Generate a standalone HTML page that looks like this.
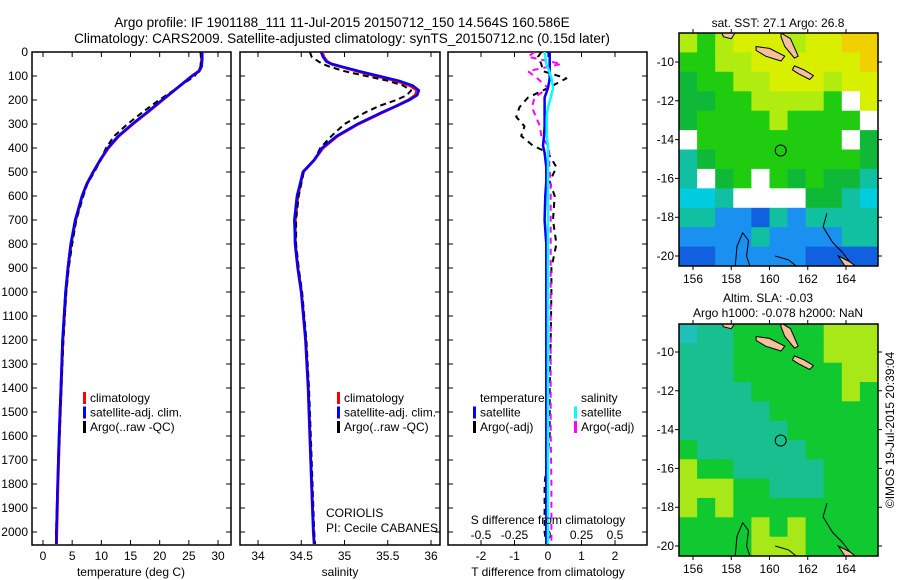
<!DOCTYPE html>
<html><head><meta charset="utf-8"><style>
body{margin:0;background:#fff;}
svg{display:block;font-family:"Liberation Sans",sans-serif;}
text{fill:#000;}
</style></head><body>
<svg id="s" width="900" height="580" viewBox="0 0 900 580">
<text x="342" y="27" font-size="13.5" text-anchor="middle">Argo profile: IF 1901188_111 11-Jul-2015 20150712_150 14.564S 160.586E</text>
<text x="342" y="43" font-size="13.5" text-anchor="middle">Climatology: CARS2009. Satellite-adjusted climatology: synTS_20150712.nc (0.15d later)</text>
<text x="778" y="27" font-size="12" text-anchor="middle">sat. SST: 27.1 Argo: 26.8</text>
<text x="768" y="302" font-size="12" text-anchor="middle">Altim. SLA: -0.03</text>
<text x="778" y="317" font-size="12" text-anchor="middle">Argo h1000: -0.078 h2000: NaN</text>
<text transform="translate(894,430) rotate(-90)" font-size="12" text-anchor="middle">©IMOS 19-Jul-2015 20:39:04</text>
<text x="326" y="517" font-size="12">CORIOLIS</text>
<text x="326" y="532" font-size="12">PI: Cecile CABANES</text>
</svg>
<script>
// ---------- data ----------
const depthLevels = [0,30,60,80,100,150,200,250,300,350,400,450,500,550,600,700,800,900,1000,1200,1400,1600,1800,2000,2050];
const tempClim   = [27.2,27.2,27.1,26.7,25.5,23,20.5,18,15.4,13,11.2,9.8,8.6,7.5,6.7,5.6,4.8,4.3,3.9,3.4,3.1,2.8,2.55,2.35,2.3];
const tempSat    = [27.3,27.3,27.2,26.8,25.6,23,20.4,17.9,15.3,12.9,11.1,9.8,8.6,7.5,6.7,5.5,4.75,4.25,3.85,3.35,3.05,2.75,2.5,2.3,2.3];
const tempArgo   = [27.0,27.1,27.0,26.6,26.0,23,19.9,17.1,14.5,12.2,10.8,9.9,8.8,7.6,6.9,5.7,5.0,4.4,4.0,3.5,3.15,2.85,2.5,2.25,2.3];
const salDepths  = [0,20,40,50,60,80,100,120,140,160,180,200,225,250,300,350,400,450,500,600,700,800,900,1000,1200,1400,1600,1800,2000,2050];
const salClim    = [34.74,34.76,34.8,34.85,34.95,35.15,35.37,35.6,35.76,35.84,35.82,35.74,35.6,35.45,35.16,34.92,34.75,34.65,34.52,34.46,34.43,34.43,34.46,34.5,34.55,34.58,34.6,34.62,34.64,34.65];
const salSat     = [34.73,34.75,34.79,34.85,34.96,35.17,35.4,35.63,35.79,35.86,35.84,35.75,35.6,35.44,35.15,34.91,34.74,34.65,34.52,34.45,34.42,34.43,34.46,34.5,34.55,34.58,34.6,34.62,34.64,34.65];
const salArgo    = [34.6,34.62,34.7,34.75,34.82,35.0,35.25,35.5,35.68,35.77,35.72,35.6,35.4,35.25,35.0,34.85,34.72,34.65,34.53,34.47,34.44,34.44,34.47,34.51,34.56,34.59,34.61,34.63,34.65,34.66];
const diffDepths = [0,20,50,80,110,150,190,230,270,310,350,390,420,480,540,600,700,800,900,1000,1200,1400,1600,1800,2000,2050];
const tDiffSat   = [0.05,0.05,0.05,0.05,0.05,0,-0.1,-0.1,-0.1,-0.1,-0.12,-0.15,-0.1,-0.05,-0.05,-0.08,-0.1,-0.05,-0.05,-0.05,-0.05,-0.05,-0.05,-0.05,-0.05,-0.05];
const tDiffArgo  = [-0.2,-0.3,-0.2,-0.15,0.55,0,-0.6,-0.85,-0.95,-0.7,-0.8,-0.45,0,0.25,0.05,0.2,0.15,0.25,0.1,0.1,0.08,0.05,0.05,-0.1,-0.1,-0.05];
const sDiffSat   = [-0.025,-0.02,-0.012,0.01,0.025,0.038,0.02,0,-0.01,-0.01,-0.01,0,0,0,0,0,0,0,0,0,0,0,0,0,0,0];
const sDiffArgo  = [-0.1,-0.15,0.1,-0.15,-0.08,0,-0.1,-0.12,-0.09,-0.06,-0.05,0,0.01,0.01,0.02,0.02,0.02,0.02,0.02,0.02,0.02,0.02,0.02,0.025,0.025,0.025];
const depthTicks = [0,100,200,300,400,500,600,700,800,900,1000,1100,1200,1300,1400,1500,1600,1700,1800,1900,2000];
const tempTicks = [0,5,10,15,20,25,30];
const salTicks = [34,34.5,35,35.5,36];
const tDiffTicks = [-2,-1,0,1,2];
const sDiffTicks = [-0.5,-0.25,0,0.25,0.5];
const lonTicks = [156,158,160,162,164];
const latTicks = [-10,-12,-14,-16,-18,-20];
const sstGrid = ["LGLYYYLYYOO","GGLLYYYYYYO","DGGLLYYYLYY","DDGGLLLLGWY","DGGGGLGGGGW","WGGGGGGGGWD","TDGGGGGGGGD","TWDGWGDGDDT","CCTWWWWDDTC","TTBBNTBTTTT","BBBBTBBBBTT","NNBBBBBNNNN"];
const slaGrid = ["CTTGGGGGLLL","TTTGGGGGLLL","TTTGGGGGGLL","TTTTGGGGGLG","TTTTTGGGGGG","TTTTTTGGGGG","GTTTTTTGGGG","LGGTTTTTGGG","LLLGGTTTGGG","LGLGGGGGGGG","GGGGLGLGGGG","GGGGLLLGGGG"];
const argoLon = 160.586, argoLat = -14.564;

const palette = {Y:"#d8f000",O:"#f0d000",L:"#b0ec10",G:"#20cc10",D:"#10b838",T:"#10c0a0",C:"#00cce0",B:"#1a90f0",N:"#1060e0",W:"#ffffff"};
const slaPalette = {C:"#20c0b8",T:"#18c090",G:"#10c830",L:"#a8e818"};

const NS="http://www.w3.org/2000/svg";
const svg=document.getElementById('s');
function mk(tag,attrs,parent){const e=document.createElementNS(NS,tag);for(const k in attrs)e.setAttribute(k,attrs[k]);(parent||svg).appendChild(e);return e;}
function lin(d0,d1,r0,r1){return v=>r0+(v-d0)*(r1-r0)/(d1-d0);}

const yTop=52, yBot=545;
const yDepth=lin(0,2000,52,532);

function frame(x0,x1,name){
  const r=mk('rect',{x:x0,y:yTop,width:x1-x0,height:yBot-yTop,fill:'none',stroke:'#000','stroke-width':1.5});
  
  
  depthTicks.forEach(d=>{
    const y=yDepth(d);
    const t=mk('path',{d:`M${x0},${y}h5M${x1},${y}h-5`,stroke:'#000'});
    
    
  });
}
function xTicks(x0,x1,ticks,sx,fmt,labelY,top){
  ticks.forEach(v=>{
    const x=sx(v);
    const t=mk('path',{d:(top?`M${x},${yTop}v5`:'')+`M${x},${yBot}v-5`,stroke:'#000'});
    
    
    const l=mk('text',{x:x,y:labelY,'font-size':12,'text-anchor':'middle'});
    l.textContent=fmt(v);
    
    
  });
}
function line(xs,ys,sx,color,w,dash,name,clip){
  const pts=xs.map((v,i)=>sx(v).toFixed(1)+','+yDepth(ys[i]).toFixed(1)).join(' ');
  const p=mk('polyline',{points:pts,fill:'none',stroke:color,'stroke-width':w,'stroke-linejoin':'round'});
  if(dash)p.setAttribute('stroke-dasharray',dash);
  if(clip)p.setAttribute('clip-path',clip);
  
  
}
function legend(x,y,items,name){
  const g=mk('g',{});
  
  
  items.forEach((it,i)=>{
    const yy=y+i*14.5;
    if(it[0]){const m=mk('rect',{x:x,y:yy-6,width:3,height:12,fill:it[0]},g);
      
      }
    const t=mk('text',{x:x+7,y:yy+4,'font-size':12},g);
    t.textContent=it[1];
    
    
  });
}
const defs=mk('defs',{});
[['c1',32,231],['c2',240,440],['c3',448,647],['cm1',679,878],['cm2',679,878]].forEach(([id,a,b])=>{
  const cp=mk('clipPath',{id:id},defs);
  if(id==='cm1')mk('rect',{x:a,y:33,width:b-a,height:233},cp);
  else if(id==='cm2')mk('rect',{x:a,y:324,width:b-a,height:232},cp);
  else mk('rect',{x:a,y:yTop,width:b-a,height:yBot-yTop},cp);
});

depthTicks.forEach(d=>{
  const t=mk('text',{x:28,y:yDepth(d)+4,'font-size':12,'text-anchor':'end'});
  t.textContent=d;
  
  
});

// Panel 1 temperature
const sxT=lin(0,30,43,218);
frame(32,231,'temperature-panel');
xTicks(32,231,tempTicks,sxT,v=>v,560,true);
line(tempClim,depthLevels,sxT,'#f00',3,null,'temp-climatology-line','url(#c1)');
line(tempArgo,depthLevels,sxT,'#000',2,'6,4','temp-argo-line','url(#c1)');
line(tempSat,depthLevels,sxT,'#00f',2.5,null,'temp-satellite-line','url(#c1)');
legend(83,398,[['#f00','climatology'],['#00f','satellite-adj. clim.'],['#000','Argo(..raw -QC)']],'temperature-legend');
{const t=mk('text',{x:131,y:576,'font-size':12,'text-anchor':'middle'});t.textContent='temperature (deg C)';}

// Panel 2 salinity
const sxS=lin(34,36,258,431);
frame(240,440,'salinity-panel');
xTicks(240,440,salTicks,sxS,v=>v,560,true);
line(salClim,salDepths,sxS,'#f00',3,null,'sal-climatology-line','url(#c2)');
line(salArgo,salDepths,sxS,'#000',2,'6,4','sal-argo-line','url(#c2)');
line(salSat,salDepths,sxS,'#00f',2.5,null,'sal-satellite-line','url(#c2)');
legend(337,398,[['#f00','climatology'],['#00f','satellite-adj. clim.'],['#000','Argo(..raw -QC)']],'salinity-legend');
{const t=mk('text',{x:340,y:576,'font-size':12,'text-anchor':'middle'});t.textContent='salinity';}

// Panel 3 differences
const sxD=lin(0,1,548,581.5);
const sxSD=lin(0,0.25,548,581.5);
frame(448,647,'difference-panel');
xTicks(448,647,tDiffTicks,sxD,v=>v,560,true);
sDiffTicks.forEach(v=>{
  const l=mk('text',{x:sxSD(v),y:539,'font-size':12,'text-anchor':'middle'});
  l.textContent=v;
  
  
});
line(tDiffArgo,diffDepths,sxD,'#000',2,'6,5','t-diff-argo-line','url(#c3)');
line(sDiffArgo,diffDepths,sxSD,'#f0f',2,'6,5','s-diff-argo-line','url(#c3)');
line(tDiffSat,diffDepths,sxD,'#00f',2.5,null,'t-diff-satellite-line','url(#c3)');
line(sDiffSat,diffDepths,sxSD,'#0ff',2.5,null,'s-diff-satellite-line','url(#c3)');
legend(473,398,[[null,'temperature'],['#00f','satellite'],['#000','Argo(-adj)']],'temperature-diff-legend');
legend(574,398,[[null,'salinity'],['#0ff','satellite'],['#f0f','Argo(-adj)']],'salinity-diff-legend');
{const t=mk('text',{x:548,y:524,'font-size':12,'text-anchor':'middle'});t.textContent='S difference from climatology';}
{const t=mk('text',{x:548,y:576,'font-size':12,'text-anchor':'middle'});t.textContent='T difference from climatology';}

// Maps
function drawMap(y0,y1,latAtY,grid,pal,clip,name){
  const sx=lin(156,164,693,846);
  const sy=lin(-10,-20,latAtY[0],latAtY[1]);
  const x0=679,x1=878;
  const g=mk('g',{'clip-path':clip});
  
  
  const rows=grid.length, cols=grid[0].length;
  const cw=(x1-x0)/cols, ch=(y1-y0)/rows;
  grid.forEach((row,r)=>{[...row].forEach((c,k)=>{
    const cell=mk('rect',{x:(x0+k*cw).toFixed(1),y:(y0+r*ch).toFixed(1),width:(cw+0.6).toFixed(1),height:(ch+0.6).toFixed(1),fill:pal[c]},g);
    
    
  });});
  const islands=[[[159.3,-9.2],[160.0,-9.3],[160.8,-9.7],[160.6,-9.95],[159.8,-9.7],[159.3,-9.4]],
                 [[160.6,-8.5],[161.1,-8.8],[161.5,-9.7],[161.3,-9.8],[160.8,-9.2],[160.6,-8.7]],
                 [[161.3,-10.2],[161.8,-10.4],[162.3,-10.7],[162.1,-10.9],[161.5,-10.6],[161.2,-10.4]],
                 [[157.5,-8.5],[158.2,-8.5],[158.0,-8.8],[157.6,-8.7]],
                 [[163.6,-20.0],[164.2,-20.3],[164.6,-20.6],[164.0,-20.6]]];
  islands.forEach(pts=>{
    const p=mk('polygon',{points:pts.map(q=>sx(q[0]).toFixed(1)+','+sy(q[1]).toFixed(1)).join(' '),fill:'#f5c09a',stroke:'#000','stroke-width':1},g);
    
    
  });
  const contours=[[[158.2,-20.6],[158.3,-19.5],[158.6,-18.8],[158.9,-19.2],[158.8,-20.0],[159.0,-20.6]],
                  [[163.0,-17.8],[162.8,-18.5],[163.3,-19.3],[163.8,-19.8],[164.2,-20.3]],
                  [[160.3,-20.0],[161.0,-20.2],[161.5,-20.6]]];
  contours.forEach(pts=>{
    const p=mk('polyline',{points:pts.map(q=>sx(q[0]).toFixed(1)+','+sy(q[1]).toFixed(1)).join(' '),fill:'none',stroke:'#000','stroke-width':1},g);
    
    
  });
  const c=mk('circle',{cx:sx(argoLon),cy:sy(argoLat),r:5.5,fill:'none',stroke:'#000','stroke-width':1});
  
  
  const fr=mk('rect',{x:x0,y:y0,width:x1-x0,height:y1-y0,fill:'none',stroke:'#000','stroke-width':1.5});
  
  
  lonTicks.forEach(v=>{
    const x=sx(v);
    const t=mk('path',{d:`M${x},${y0}v-4M${x},${y1}v4`,stroke:'#000'});
    
    
    const l=mk('text',{x:x,y:y1+17,'font-size':12,'text-anchor':'middle'});
    l.textContent=v;
    
    
  });
  latTicks.forEach(v=>{
    const y=sy(v);
    const t=mk('path',{d:`M${x0},${y}h-4M${x1},${y}h4`,stroke:'#000'});
    
    
    const l=mk('text',{x:x0-5,y:y+4,'font-size':12,'text-anchor':'end'});
    l.textContent=v;
    
    
  });
}
drawMap(33,266,[62,256],sstGrid,palette,'url(#cm1)','sst-map');
drawMap(324,556,[352,546],slaGrid,slaPalette,'url(#cm2)','sla-map');
</script>
</body></html>
